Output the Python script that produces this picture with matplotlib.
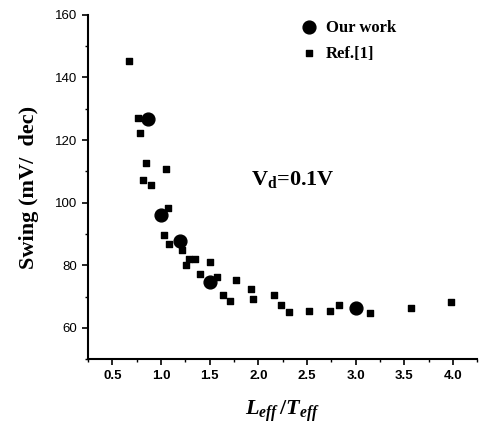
import matplotlib.pyplot as plt
import numpy as np

plt.rcParams['mathtext.fontset'] = 'custom'
plt.rcParams['mathtext.rm'] = 'Liberation Serif:bold'
plt.rcParams['mathtext.it'] = 'Liberation Serif:italic:bold'
plt.rcParams['mathtext.bf'] = 'Liberation Serif:bold'

# our work (big circles)
ours_x = [0.87, 1.0, 1.2, 1.5, 3.0]
ours_y = [126.8, 96.0, 87.6, 74.8, 66.2]

# Ref.[1] (small squares)
ref_x = [0.67, 0.76, 0.78, 0.85, 1.05, 0.81, 0.90, 1.07, 1.03, 1.08, 1.19, 1.22,
         1.29, 1.35, 1.26, 1.50, 1.40, 1.58, 1.77, 1.64, 1.71, 1.93, 1.95, 2.16,
         2.23, 2.32, 2.52, 2.74, 2.83, 3.15, 3.57, 3.98]
ref_y = [145.3, 127.1, 122.4, 112.7, 110.9, 107.3, 105.5, 98.4, 89.8, 86.7, 88.2, 85.0,
         82.0, 82.0, 80.1, 81.0, 77.2, 76.1, 75.3, 70.5, 68.7, 72.4, 69.3, 70.5,
         67.4, 65.0, 65.5, 65.5, 67.3, 64.6, 66.3, 68.1]

fig = plt.figure(figsize=(4.81, 4.24), dpi=100)
ax = fig.add_axes([0.183, 0.153, 0.809, 0.812])

ax.scatter(ours_x, ours_y, s=85, marker='o', color='black', label='Our work', zorder=3)
ax.scatter(ref_x, ref_y, s=18, marker='s', color='black', label='Ref.[1]', zorder=2)

ax.set_xlim(0.25, 4.25)
ax.set_ylim(50, 160)
ax.set_xticks(np.arange(0.5, 4.01, 0.5))
ax.set_xticks(np.arange(0.25, 4.26, 0.25), minor=True)
ax.set_yticks(np.arange(60, 161, 20))
ax.set_yticks(np.arange(50, 161, 10), minor=True)

for s in ['top', 'right']:
    ax.spines[s].set_visible(False)
ax.spines['left'].set_linewidth(1.5)
ax.spines['bottom'].set_linewidth(1.5)
ax.tick_params(which='major', direction='out', length=4, width=1.2)
ax.tick_params(which='minor', direction='out', length=2.5, width=1)

for lab in ax.get_xticklabels():
    lab.set_fontfamily('Liberation Sans')
    lab.set_fontweight('bold')
    lab.set_fontsize(9.5)
for lab in ax.get_yticklabels():
    lab.set_fontfamily('Liberation Sans')
    lab.set_fontsize(9.5)

ax.set_ylabel('Swing (mV/  dec)', fontfamily='Liberation Serif', fontweight='bold',
              fontsize=16, labelpad=12)
ax.set_xlabel(r'$L_{eff}\,/T_{eff}$', fontsize=16, labelpad=12)

ax.text(0.42, 0.505, r'$\mathrm{V_d}$=0.1V', transform=ax.transAxes,
        fontfamily='Liberation Serif', fontweight='bold', fontsize=16)

leg = ax.legend(loc='upper left', bbox_to_anchor=(0.513, 1.02), frameon=False,
                prop={'family': 'Liberation Serif', 'weight': 'bold', 'size': 12},
                handlelength=1.2, handletextpad=0.4, labelspacing=0.6, borderpad=0.2)

fig.savefig('out.png', dpi=100)
